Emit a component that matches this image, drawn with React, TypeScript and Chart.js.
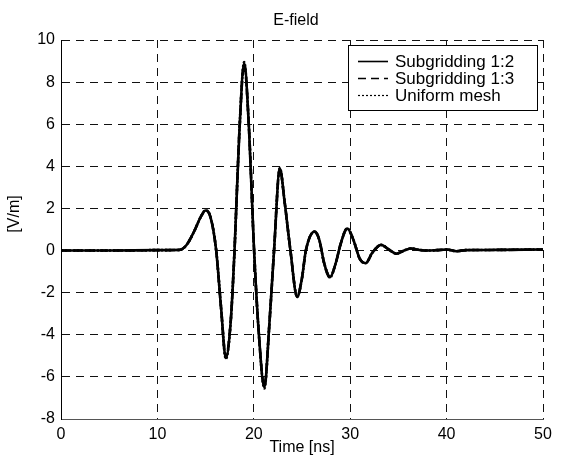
import React, { useEffect, useRef } from "react";
import { Chart, registerables } from "chart.js";

Chart.register(...registerables);

const TITLE = "E-field";
const X_LABEL = "Time [ns]";
const Y_LABEL = "[V/m]";
const SERIES_NAMES = ["Subgridding 1:2", "Subgridding 1:3", "Uniform mesh"];

const X_TICKS = [0, 10, 20, 30, 40, 50];
const Y_TICKS = [-8, -6, -4, -2, 0, 2, 4, 6, 8, 10];

const times = [
  0, 5, 10, 12.3, 13.0, 13.8, 14.5, 15.0, 15.5, 16.1, 16.6, 17.1, 17.6, 18.0,
  18.5, 19.0, 19.5, 20.0, 20.5, 21.1, 21.6, 22.1, 22.7, 23.2, 23.8, 24.5, 25.0,
  25.4, 26.3, 26.8, 27.3, 27.9, 28.5, 29.0, 29.7, 30.3, 31.0, 31.6, 32.3, 33.2,
  34.0, 34.8, 35.5, 36.3, 37.2, 38.0, 39.0, 40.0, 41.0, 42.0, 45.0, 50.0,
];

const sub12 = [
  0, 0, 0.02, 0.03, 0.25, 0.9, 1.6, 1.9, 1.6, 0, -2.7, -5.1, -3.4, 0,
  5.6, 8.9, 5.8, 0.3, -3.8, -6.5, -3.6, 0, 3.9, 2.3, 0, -2.2, -1.3,
  0, 0.9, 0.5, -0.6, -1.27, -0.6, 0.3, 1.05, 0.55, -0.4, -0.6, -0.1, 0.27,
  0.05, -0.15, -0.02, 0.1, 0.03, 0.0, 0.02, 0.05, -0.03, 0.02, 0.03, 0.05,
];

const sub13 = [
  0, 0, 0.02, 0.03, 0.25, 0.9, 1.6, 1.9, 1.6, 0, -2.7, -5.05, -3.4, 0,
  5.6, 8.85, 5.8, 0.3, -3.8, -6.45, -3.6, 0, 3.9, 2.3, 0, -2.2, -1.3,
  0, 0.9, 0.5, -0.6, -1.25, -0.6, 0.3, 1.05, 0.55, -0.4, -0.6, -0.1, 0.27,
  0.05, -0.15, -0.02, 0.1, 0.03, 0.0, 0.02, 0.05, -0.03, 0.02, 0.03, 0.05,
];

const uniform = [
  0, 0, 0.02, 0.03, 0.25, 0.9, 1.6, 1.92, 1.6, 0, -2.7, -5.15, -3.4, 0,
  5.6, 8.95, 5.8, 0.3, -3.8, -6.55, -3.6, 0, 3.92, 2.3, 0, -2.2, -1.3,
  0, 0.9, 0.5, -0.6, -1.28, -0.6, 0.3, 1.05, 0.55, -0.4, -0.6, -0.1, 0.27,
  0.05, -0.15, -0.02, 0.1, 0.03, 0.0, 0.02, 0.05, -0.03, 0.02, 0.03, 0.05,
];

const FONT = '"Liberation Sans", Arial, Helvetica, sans-serif';
const DASHES = [[], [8, 5], [2, 2]];

function toPoints(vals: number[]) {
  return times.map((t, i) => ({ x: t, y: vals[i] }));
}

const decorPlugin = {
  id: "decor",
  afterDraw(chart: any) {
    const ctx = chart.ctx as CanvasRenderingContext2D;
    const area = chart.chartArea;
    ctx.save();
    ctx.fillStyle = "#000";
    ctx.font = `16px ${FONT}`;
    ctx.textAlign = "center";
    ctx.textBaseline = "middle";
    ctx.fillText(TITLE, 296, 21);
    ctx.fillText(X_LABEL, 302, 448);
    ctx.save();
    ctx.translate(15, 214);
    ctx.rotate(-Math.PI / 2);
    ctx.fillText(Y_LABEL, 0, 0);
    ctx.restore();

    // legend box
    const bx = 348, by = 45, bw = 189, bh = 65;
    ctx.fillStyle = "#fff";
    ctx.fillRect(bx, by, bw, bh);
    ctx.strokeStyle = "#000";
    ctx.lineWidth = 1;
    ctx.strokeRect(bx + 0.5, by + 0.5, bw, bh);
    ctx.font = `17px ${FONT}`;
    ctx.textAlign = "left";
    ctx.fillStyle = "#000";
    const rows = [61, 78, 95];
    SERIES_NAMES.forEach((name, i) => {
      const y = rows[i];
      ctx.save();
      ctx.beginPath();
      ctx.setLineDash(DASHES[i]);
      ctx.lineWidth = i === 2 ? 1.2 : 1.6;
      ctx.moveTo(358, y + 0.5);
      ctx.lineTo(388, y + 0.5);
      ctx.stroke();
      ctx.restore();
      ctx.fillText(name, 395, y + 1);
    });
    ctx.restore();
    void area;
  },
};

export default function App() {
  const ref = useRef<HTMLCanvasElement | null>(null);

  useEffect(() => {
    document.body.style.margin = "0";
    const canvas = ref.current;
    if (!canvas) return;
    const data = [sub12, sub13, uniform];
    const chart = new Chart(canvas, {
      type: "line",
      data: {
        datasets: data.map((vals, i) => ({
          label: SERIES_NAMES[i],
          data: toPoints(vals),
          borderColor: "#000",
          backgroundColor: "#000",
          borderWidth: 2.6,
          borderDash: DASHES[i],
          pointRadius: 0,
          cubicInterpolationMode: "monotone" as const,
          fill: false,
        })),
      },
      options: {
        responsive: false,
        animation: false,
        devicePixelRatio: 1,
        layout: { padding: { left: 0, top: 40, right: 18, bottom: 0 } },
        plugins: {
          legend: { display: false },
          title: { display: false },
          tooltip: { enabled: false },
        },
        scales: {
          x: {
            type: "linear",
            min: 0,
            max: 50,
            afterFit(scale: any) {
              scale.height = 42;
            },
            afterBuildTicks(scale: any) {
              scale.ticks = X_TICKS.map((v) => ({ value: v }));
            },
            grid: { color: "#111", lineWidth: 1, drawTicks: false },
            border: { display: true, color: "#555", width: 1, dash: [8, 6] },
            ticks: {
              color: "#000",
              padding: 6,
              maxRotation: 0,
              font: { family: FONT, size: 16 },
            },
          },
          y: {
            type: "linear",
            min: -8,
            max: 10,
            afterFit(scale: any) {
              scale.width = 61;
            },
            afterBuildTicks(scale: any) {
              scale.ticks = Y_TICKS.map((v) => ({ value: v }));
            },
            grid: { color: "#111", lineWidth: 1, drawTicks: false },
            border: { display: true, color: "#000", width: 1, dash: [8, 6] },
            ticks: {
              color: "#000",
              padding: 6,
              font: { family: FONT, size: 16 },
            },
          },
        },
      },
      plugins: [decorPlugin],
    });
    return () => chart.destroy();
  }, []);

  return (
    <div style={{ position: "fixed", left: 0, top: 0, width: 561, height: 461, background: "#fff" }}>
      <canvas ref={ref} width={561} height={461} />
    </div>
  );
}
